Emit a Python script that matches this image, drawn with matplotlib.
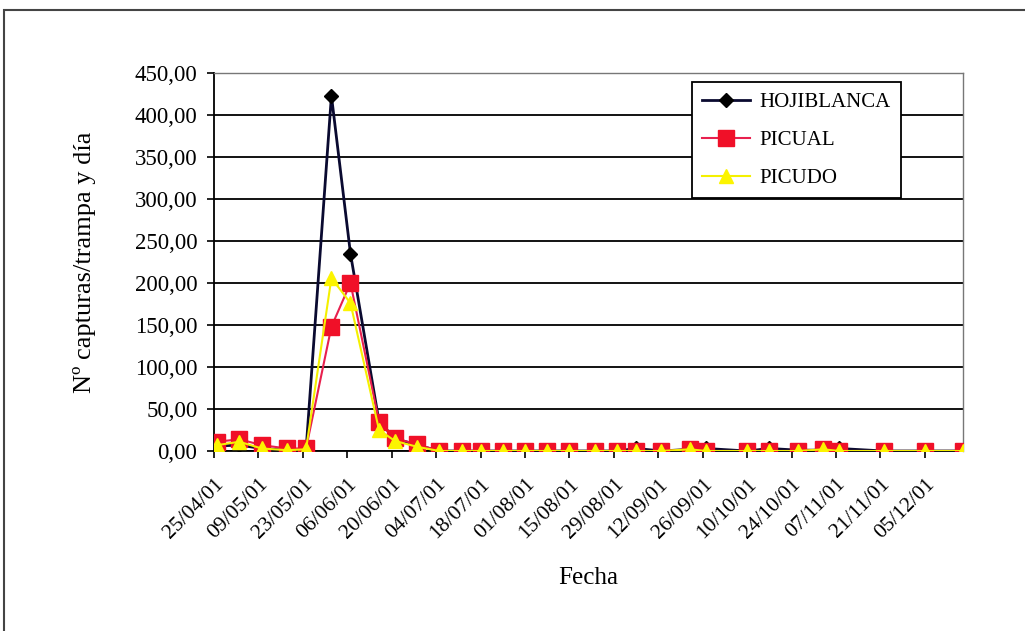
import matplotlib
matplotlib.use("Agg")
import matplotlib.pyplot as plt
import matplotlib.transforms as mtransforms
from matplotlib.patches import Rectangle
from matplotlib.ticker import FuncFormatter, MultipleLocator
import pandas as pd

fechas = ["2001-04-26", "2001-05-03", "2001-05-10", "2001-05-18", "2001-05-24",
          "2001-06-01", "2001-06-07", "2001-06-16", "2001-06-21", "2001-06-28",
          "2001-07-05", "2001-07-12", "2001-07-18", "2001-07-25", "2001-08-01",
          "2001-08-08", "2001-08-15", "2001-08-23", "2001-08-30", "2001-09-05",
          "2001-09-13", "2001-09-22", "2001-09-27", "2001-10-10", "2001-10-17",
          "2001-10-26", "2001-11-03", "2001-11-08", "2001-11-22", "2001-12-05",
          "2001-12-17"]

hojiblanca = [6, 7, 3, 1, 1, 423, 235, 35, 15, 7,
              0, 0, 0, 0, 0, 0, 0, 0, 0, 3,
              0, 2, 3, 0, 3, 1, 1, 3, 0, 0, 0]
picual = [11, 14, 7, 3, 3, 148, 200, 35, 15, 8,
          0, 0, 0, 0, 0, 0, 0, 0, 0, 0,
          0, 2, 0, 0, 0, 0, 2, 0, 0, 0, 0]
picudo = [7, 11, 3, 1, 2, 206, 176, 25, 12, 5,
          0, 0, 0, 0, 0, 0, 0, 0, 0, 0,
          0, 2, 0, 0, 0, 0, 2, 0, 0, 0, 0]

series_names = ["HOJIBLANCA", "PICUAL", "PICUDO"]
x_start, x_end = "2001-04-25", "2001-12-17"
tick_first, tick_last = "2001-04-25", "2001-12-05"
y_max, y_step = 450, 50

plt.rcParams['font.family'] = ['Liberation Serif', 'DejaVu Serif']

fig = plt.figure(figsize=(10.25, 6.31), dpi=100)
W, H = 1025, 631
ax = fig.add_axes([214 / W, 1 - 451 / H, (963 - 214) / W, (451 - 73) / H])

dates = pd.to_datetime(fechas)

ax.plot(dates, hojiblanca, color='#0a0a30', lw=2.0, marker='D', ms=7,
        mfc='black', mec='black', label=series_names[0], zorder=3)
ax.plot(dates, picual, color='#e8204e', lw=1.5, marker='s', ms=11.5,
        mfc='#f01028', mec='#f01028', label=series_names[1], zorder=4)
ax.plot(dates, picudo, color='#f4f000', lw=1.5, marker='^', ms=10,
        mfc='#fcf400', mec='#fcf400', label=series_names[2], zorder=5)

ax.set_xlim(pd.Timestamp(x_start), pd.Timestamp(x_end))
ax.set_ylim(0, y_max)
ax.yaxis.set_major_locator(MultipleLocator(y_step))
ax.yaxis.set_major_formatter(FuncFormatter(lambda v, p: f"{v:.2f}".replace('.', ',')))

ticks = pd.date_range(tick_first, tick_last, freq='14D')
ax.set_xticks(ticks)
ax.set_xticklabels([t.strftime('%d/%m/%y') for t in ticks], rotation=45,
                   ha='right', rotation_mode='anchor', fontsize=15.5)
offset = mtransforms.ScaledTranslation(8 / 100, 0, fig.dpi_scale_trans)
for lab in ax.get_xticklabels():
    lab.set_transform(lab.get_transform() + offset)

ax.tick_params(axis='y', labelsize=16.5, length=5, width=1.2, direction='out', pad=7)
ax.tick_params(axis='x', length=5, width=1.2, direction='out', pad=12)

ax.grid(axis='y', color='black', lw=1.3)
ax.set_axisbelow(True)
for side in ['left', 'bottom']:
    ax.spines[side].set_color('black')
    ax.spines[side].set_linewidth(1.3)
for side in ['top', 'right']:
    ax.spines[side].set_color('#777777')
    ax.spines[side].set_linewidth(1.0)

ax.set_xlabel('Fecha', fontsize=18, labelpad=18)
ax.set_ylabel('Nº capturas/trampa y día', fontsize=19, labelpad=28)

leg = ax.legend(loc='upper left', bbox_to_anchor=((692 - 214) / 749, (451 - 82) / 378),
                fontsize=15, frameon=True, fancybox=False, framealpha=1,
                edgecolor='black', handlelength=2.3, labelspacing=0.88,
                borderpad=0.5, handletextpad=0.45, borderaxespad=0)
leg.get_frame().set_linewidth(1.3)
leg.set_zorder(10)

fig.patches.append(Rectangle((4 / W, -0.1), 1.2, 1.1 - 10 / H,
                             transform=fig.transFigure, fill=False,
                             edgecolor='#444444', lw=1.5))

fig.savefig('out.png', dpi=100)
